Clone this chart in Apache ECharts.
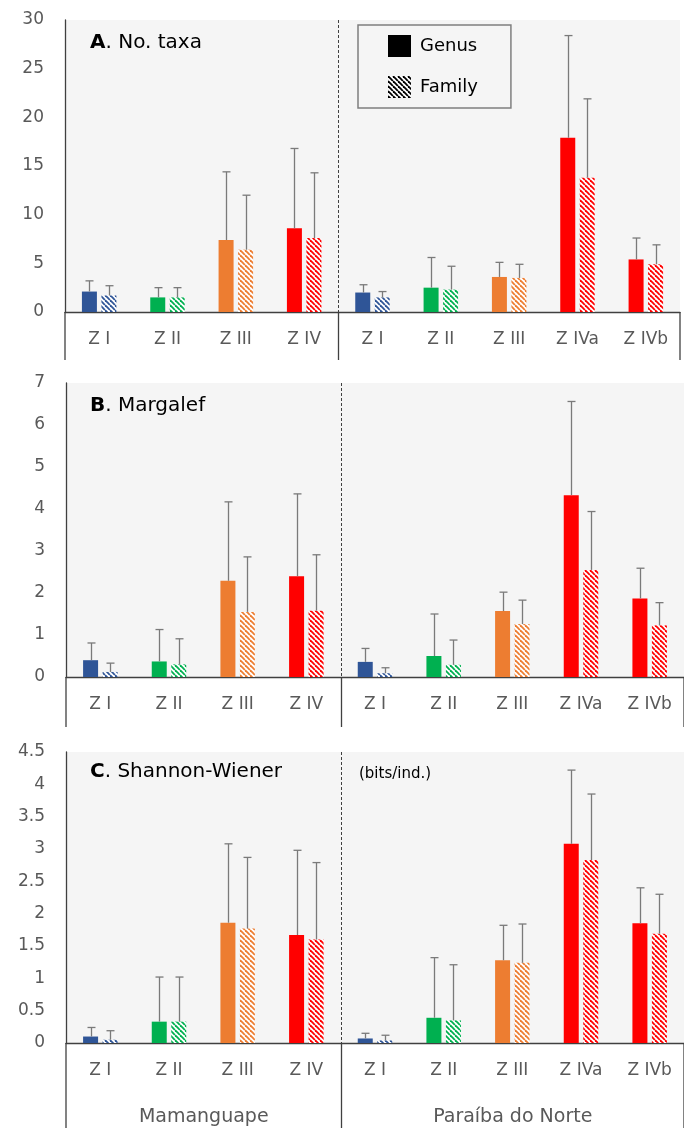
<!DOCTYPE html>
<html>
<head>
<meta charset="utf-8">
<script src="https://cdn.jsdelivr.net/npm/echarts@6/dist/echarts.min.js"></script>
<style>
  html, body { margin: 0; padding: 0; background: #fff; }
  #chart { width: 684px; height: 1128px; }
</style>
</head>
<body>
<div id="chart"></div>
<script>
// Sampling zones along the two estuaries
const zones = ['Z I', 'Z II', 'Z III', 'Z IV', 'Z I', 'Z II', 'Z III', 'Z IVa', 'Z IVb'];
const zoneColors = ['#2f5597', '#00b050', '#ed7d31', '#ff0000', '#2f5597', '#00b050', '#ed7d31', '#ff0000', '#ff0000'];
const estuaries = ['Mamanguape', 'Paraíba do Norte'];
const estuaryStart = [0, 4];            // first zone index of each estuary
const levels = ['Genus', 'Family'];

// A. Number of taxa (mean and standard deviation)
const taxaGenusMean   = [2.1, 1.5, 7.4, 8.6, 2.0, 2.5, 3.6, 17.9, 5.4];
const taxaGenusSD     = [1.1, 1.0, 7.0, 8.2, 0.8, 3.1, 1.5, 10.5, 2.2];
const taxaFamilyMean  = [1.7, 1.5, 6.4, 7.6, 1.5, 2.3, 3.5, 13.8, 4.9];
const taxaFamilySD    = [1.0, 1.0, 5.6, 6.7, 0.6, 2.4, 1.4, 8.1, 2.0];

// B. Margalef richness
const margGenusMean   = [0.40, 0.37, 2.29, 2.40, 0.36, 0.50, 1.57, 4.33, 1.87];
const margGenusSD     = [0.41, 0.76, 1.88, 1.96, 0.32, 1.00, 0.45, 2.23, 0.72];
const margFamilyMean  = [0.12, 0.30, 1.55, 1.58, 0.09, 0.29, 1.26, 2.55, 1.23];
const margFamilySD    = [0.21, 0.61, 1.31, 1.33, 0.13, 0.59, 0.57, 1.39, 0.54];

// C. Shannon-Wiener diversity (bits/ind.)
const shanGenusMean   = [0.10, 0.33, 1.86, 1.67, 0.07, 0.39, 1.28, 3.08, 1.85];
const shanGenusSD     = [0.14, 0.69, 1.22, 1.31, 0.08, 0.93, 0.54, 1.14, 0.55];
const shanFamilyMean  = [0.05, 0.33, 1.77, 1.60, 0.04, 0.35, 1.24, 2.83, 1.69];
const shanFamilySD    = [0.14, 0.69, 1.10, 1.19, 0.08, 0.86, 0.60, 1.02, 0.61];

// Panel letters, titles and value-axis ranges
const panelLetters = ['A', 'B', 'C'];
const panelNames   = ['No. taxa', 'Margalef', 'Shannon-Wiener'];
const yMaxes       = [30, 7, 4.5];
const ySteps       = [5, 1, 0.5];
const unitNote     = '(bits/ind.)';

const panelData = [
  [taxaGenusMean, taxaGenusSD, taxaFamilyMean, taxaFamilySD],
  [margGenusMean, margGenusSD, margFamilyMean, margFamilySD],
  [shanGenusMean, shanGenusSD, shanFamilyMean, shanFamilySD]
];

// Layout of the three stacked plots
const FONT = '"DejaVu Sans", "Noto Sans", sans-serif';
const AXIS_GREY = '#595959';
const LINE_DARK = '#404040';
const PLOT_BG = '#f5f5f5';
const BAR_W = 15;
const BAR_GAP = 0.3;
const grids = [
  { left: 65, top: 20,  height: 292, right: 4,  frameDepth: 48,  titleDy: 13 },
  { left: 66, top: 383, height: 294, right: -8, frameDepth: 50,  titleDy: 13 },
  { left: 66, top: 752, height: 291, right: -8, frameDepth: 100, titleDy: 10 }
];

// Diagonal hatching for family-level bars
function stripes(color) {
  const s = 5;
  const c = document.createElement('canvas');
  c.width = c.height = s;
  const g = c.getContext('2d');
  g.fillStyle = '#ffffff';
  g.fillRect(0, 0, s, s);
  g.strokeStyle = color;
  g.lineWidth = 1.8;
  for (const o of [-s, 0, s]) {
    g.beginPath();
    g.moveTo(o, 0);
    g.lineTo(o + s, s);
    g.stroke();
  }
  return { image: c, repeat: 'repeat' };
}

const chart = echarts.init(document.getElementById('chart'), null, { renderer: 'canvas' });

const option = {
  backgroundColor: '#ffffff',
  animation: false,
  title: [],
  legend: {
    data: levels,
    orient: 'vertical',
    left: 358,
    top: 25,
    padding: [10, 33, 10, 30],
    itemWidth: 23,
    itemHeight: 22,
    itemGap: 19,
    icon: 'rect',
    selectedMode: false,
    backgroundColor: PLOT_BG,
    borderColor: '#7f7f7f',
    borderWidth: 1.5,
    textStyle: { fontFamily: FONT, fontSize: 18, color: '#000', padding: [0, 0, 0, 4] }
  },
  grid: [],
  xAxis: [],
  yAxis: [],
  series: []
};

grids.forEach((gl, i) => {
  option.grid.push({
    left: gl.left, right: gl.right, top: gl.top, height: gl.height,
    show: true, backgroundColor: PLOT_BG, borderWidth: 0, containLabel: false
  });

  option.title.push({
    text: '{b|' + panelLetters[i] + '}{n|. ' + panelNames[i] + '}',
    left: 90, top: gl.top + gl.titleDy, padding: 0,
    textStyle: {
      fontWeight: 'normal',
      rich: {
        b: { fontFamily: FONT, fontSize: 20, fontWeight: 'bold', color: '#000' },
        n: { fontFamily: FONT, fontSize: 20, fontWeight: 'normal', color: '#000' }
      }
    }
  });

  option.xAxis.push({
    type: 'category', gridIndex: i, data: zones,
    axisLine: { lineStyle: { color: LINE_DARK, width: 1.3 } },
    axisTick: { show: false },
    axisLabel: { color: AXIS_GREY, fontFamily: FONT, fontSize: 17, margin: 19, interval: 0 },
    splitLine: { show: false }
  });

  option.yAxis.push({
    type: 'value', gridIndex: i, min: 0, max: yMaxes[i], interval: ySteps[i],
    axisLine: { show: true, lineStyle: { color: LINE_DARK, width: 1.3 } },
    axisTick: { show: false },
    splitLine: { show: false },
    axisLabel: { color: AXIS_GREY, fontFamily: FONT, fontSize: 17, margin: 21 }
  });

  const [gMean, gSD, fMean, fSD] = panelData[i];

  option.series.push({
    name: levels[0], type: 'bar', xAxisIndex: i, yAxisIndex: i,
    barWidth: BAR_W, barGap: (BAR_GAP * 100) + '%',
    itemStyle: { color: '#000' },
    data: gMean.map((v, j) => ({ value: v, itemStyle: { color: zoneColors[j] } }))
  });

  option.series.push({
    name: levels[1], type: 'bar', xAxisIndex: i, yAxisIndex: i,
    barWidth: BAR_W, barGap: (BAR_GAP * 100) + '%',
    itemStyle: { color: stripes('#000') },
    data: fMean.map((v, j) => ({ value: v, itemStyle: { color: stripes(zoneColors[j]) } }))
  });

  // Upper error whiskers (mean + SD) for both taxonomic levels
  const errData = [];
  gMean.forEach((v, j) => errData.push([j, v, gSD[j], -1]));
  fMean.forEach((v, j) => errData.push([j, v, fSD[j], 1]));
  option.series.push({
    type: 'custom', xAxisIndex: i, yAxisIndex: i, z: 5, silent: true,
    data: errData,
    renderItem: (params, api) => {
      const off = api.value(3) * BAR_W * (1 + BAR_GAP) / 2;
      const base = api.coord([api.value(0), api.value(1)]);
      const top = api.coord([api.value(0), api.value(1) + api.value(2)]);
      const x = Math.round(base[0] + off) + 0.5;
      const style = { stroke: '#7a7a7a', lineWidth: 1.3 };
      return {
        type: 'group',
        children: [
          { type: 'line', shape: { x1: x, y1: base[1], x2: x, y2: top[1] }, style },
          { type: 'line', shape: { x1: x - 4, y1: top[1], x2: x + 4, y2: top[1] }, style }
        ]
      };
    }
  });

  // Estuary divider and the frame around the zone labels
  option.series.push({
    type: 'custom', xAxisIndex: i, yAxisIndex: i, z: 4, silent: true, clip: false,
    data: [[estuaryStart[1]]],
    renderItem: (params, api) => {
      const cs = params.coordSys;
      const k = api.value(0);
      const xa = api.coord([k - 1, 0]);
      const xb = api.coord([k, 0]);
      const xDiv = Math.round((xa[0] + xb[0]) / 2) + 0.5;
      const yAxisPos = xa[1];
      const yLow = yAxisPos + gl.frameDepth;
      const solid = { stroke: LINE_DARK, lineWidth: 1.3 };
      const kids = [
        { type: 'line', shape: { x1: xDiv, y1: cs.y, x2: xDiv, y2: yAxisPos },
          style: { stroke: LINE_DARK, lineWidth: 1, lineDash: [3, 2] } },
        { type: 'line', shape: { x1: cs.x, y1: yAxisPos, x2: cs.x, y2: yLow }, style: solid },
        { type: 'line', shape: { x1: xDiv, y1: yAxisPos, x2: xDiv, y2: yLow }, style: solid },
        { type: 'line', shape: { x1: cs.x + cs.width, y1: yAxisPos, x2: cs.x + cs.width, y2: yLow }, style: solid }
      ];
      if (i === 2) {
        const centres = [(cs.x + xDiv) / 2, (xDiv + cs.x + cs.width) / 2];
        estuaries.forEach((name, e) => {
          kids.push({
            type: 'text',
            style: {
              text: name, x: centres[e], y: yAxisPos + 74,
              align: 'center', verticalAlign: 'middle',
              fill: AXIS_GREY, font: '19px ' + FONT
            }
          });
        });
      }
      return { type: 'group', children: kids };
    }
  });
});

option.title.push({
  text: unitNote, left: 359, top: grids[2].top + 15, padding: 0,
  textStyle: { fontFamily: FONT, fontSize: 15, fontWeight: 'normal', color: '#000' }
});

chart.setOption(option);
</script>
</body>
</html>
